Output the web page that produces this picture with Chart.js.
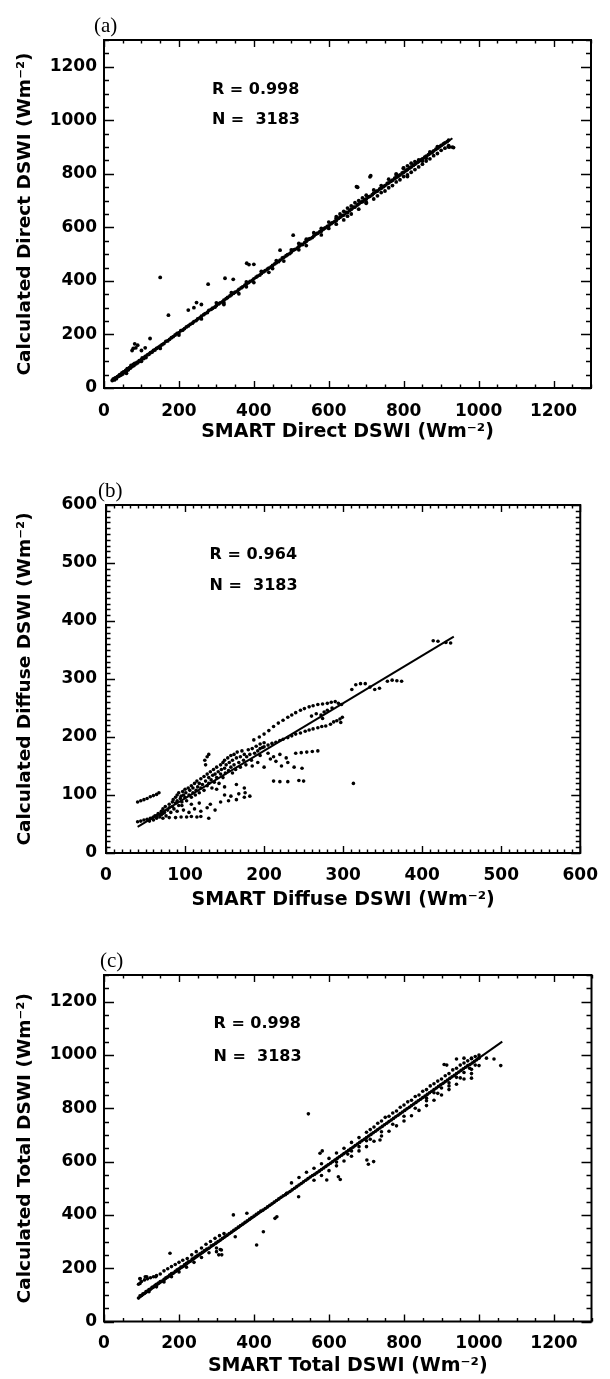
<!DOCTYPE html>
<html>
<head>
<meta charset="utf-8">
<script src="https://cdn.jsdelivr.net/npm/chart.js@4.4.1/dist/chart.umd.min.js"></script>
<style>
	html, body { margin: 0; padding: 0; background: #fff; }
	body { width: 610px; height: 1379px; position: relative; overflow: hidden; }
	.panel { position: absolute; left: 0; width: 610px; }
	.panel canvas { display: block; }
</style>
</head>
<body>
<div class="panel" id="wrapA"><canvas id="chartA"></canvas></div>
<div class="panel" id="wrapB"><canvas id="chartB"></canvas></div>
<div class="panel" id="wrapC"><canvas id="chartC"></canvas></div>
<script>
// tick labels
const wideTicks = [0, 200, 400, 600, 800, 1000, 1200];
const diffuseTicks = [0, 100, 200, 300, 400, 500, 600];

// (a) direct DSWI: [SMART, calculated] in W m-2
const directPoints = [
	[22,28],[25,34],[28,30],[30,38],[33,35],[36,42],[40,44],[42,50],[45,48],[48,56],[50,52],[52,60],[55,58],[58,66],[60,62],[62,72],
	[65,68],[68,76],[70,74],[72,84],[75,80],[78,88],[80,84],[82,92],[85,90],[88,96],[90,94],[94,102],[96,100],[100,106],[102,112],
	[106,110],[110,118],[112,114],[116,124],[120,126],[124,132],[128,134],[132,140],[136,142],[140,148],[145,152],[150,156],[155,162],
	[160,166],[165,174],[170,176],[175,182],[180,188],[185,192],[190,198],[195,204],[200,206],[205,214],[210,216],[215,222],[220,228],
	[225,232],[230,238],[236,242],[240,248],[246,252],[250,258],[256,262],[260,268],[266,274],[270,278],[276,282],[280,290],[286,294],
	[290,298],[296,302],[300,308],[306,314],[310,318],[316,322],[320,328],[326,334],[330,338],[336,344],[340,348],[346,354],[350,358],
	[356,362],[360,368],[366,374],[370,378],[376,384],[380,388],[386,394],[390,398],[396,402],[400,408],[406,414],[410,418],[416,422],
	[420,428],[426,434],[430,438],[436,444],[440,448],[446,452],[450,458],[456,464],[460,468],[466,472],[470,478],[476,486],[480,488],
	[486,494],[490,498],[496,502],[500,508],[506,516],[510,518],[516,522],[520,528],[526,536],[530,536],[536,544],[540,548],[546,556],
	[550,558],[556,562],[560,568],[566,576],[570,578],[576,584],[580,586],[586,594],[590,598],[596,604],[600,606],[606,614],[610,618],
	[616,622],[620,626],[626,634],[630,638],[636,644],[640,646],[646,656],[650,656],[656,664],[660,668],[666,676],[670,676],[676,684],
	[680,688],[686,694],[690,696],[696,704],[700,706],[706,714],[710,716],[716,722],[720,728],[726,734],[730,736],[736,744],[740,746],
	[746,752],[750,756],[756,764],[760,766],[766,772],[770,776],[776,784],[780,786],[786,792],[790,796],[796,804],[800,806],[806,812],
	[810,816],[816,822],[820,826],[826,832],[830,836],[836,842],[840,846],[846,852],[850,856],[856,862],[860,866],[866,872],[870,876],
	[876,880],[880,886],[886,892],[890,896],[896,902],[900,906],[906,912],[910,916],[916,920],[920,926],
	[60,55],[100,100],[150,148],[200,198],[260,258],[320,318],[380,378],[450,446],[520,516],[600,596],[650,642],[700,694],[740,730],
	[780,770],[800,790],[820,806],[840,826],[860,848],[880,868],[900,888],[920,905],[930,900],[933,898],
	[520,540],[560,580],[600,620],[620,640],[640,660],[660,680],[680,700],[700,720],[720,740],[760,780],[780,800],[800,822],[820,840],
	[840,852],[850,848],[860,858],
	[300,318],[340,356],[380,396],[420,436],[460,476],[500,516],[540,556],[580,596],[620,634],[630,650],[650,672],[670,692],[690,710],
	[740,756],[780,796],[810,830],[830,846],[870,882],[890,902],
	[320,312],[360,352],[400,394],[440,432],[480,474],[540,532],[580,572],[620,612],[660,650],[700,690],[730,718],[760,748],[790,778],
	[810,796],[830,816],[850,836],[870,856],[890,876],[910,896],[640,628],[680,668],[720,706],[750,736],[770,756],[810,790],
	[150,413],[172,272],[75,140],[78,148],[82,165],[85,150],[90,160],[100,140],[110,150],[123,185],[225,291],[247,319],[240,300],
	[260,312],[278,388],[323,410],[345,406],[381,466],[387,461],[400,462],[470,515],[505,571],[674,752],[677,750],[710,789],[712,793],
	[799,821],[919,901],[922,900]
];
const directFit = [[20, 30], [930, 933]];

// (b) diffuse DSWI
const diffusePoints = [
	[40,54],[44,55],[48,57],[52,58],[56,60],[60,62],[64,64],[68,66],[72,68],
	[40,88],[44,90],[48,92],[52,94],[56,97],[60,99],[64,101],[67,104],
	[55,55],[58,60],[60,57],[62,64],[64,60],[66,68],[68,62],[70,72],[70,66],[72,76],[74,70],[75,80],[76,64],[78,74],[80,84],[80,78],
	[82,70],[84,88],[84,80],[85,92],[86,76],[88,96],[88,86],[90,100],[90,90],[92,82],[92,104],[94,94],[95,98],[96,88],[97,106],
	[98,100],[100,110],[100,96],[101,104],[102,90],[104,112],[105,100],[106,108],[108,116],[108,96],[110,104],[110,112],[112,120],
	[113,100],[114,108],[115,124],[116,114],[118,104],[118,120],[120,128],[120,112],[122,118],[124,132],[124,108],[126,124],[128,136],
	[128,116],[130,120],[130,130],[132,140],[133,126],[134,112],[135,134],[136,144],[137,122],[138,136],[140,148],[140,130],[142,140],
	[143,120],[145,152],[145,136],[146,144],[148,156],[148,130],[150,160],[150,146],[151,138],[152,152],[154,164],[155,142],[156,156],
	[158,168],[158,148],[160,160],[160,138],[162,170],[162,152],[164,144],[165,164],[166,174],[168,156],[170,166],[170,148],[172,176],
	[174,160],[175,170],[177,152],[178,166],[180,178],[182,170],[184,160],[185,180],[188,172],[190,184],[192,176],[195,188],[198,182],
	[200,190],
	[125,160],[128,166],[130,170],[126,152],
	[72,60],[80,61],[88,61],[95,62],[102,62],[108,63],[115,62],[120,63],[130,60],
	[90,72],[98,74],[105,70],[112,76],[120,72],[128,78],[138,74],[96,82],[108,84],[118,86],[132,84],[145,88],[155,90],[165,92],
	[175,96],[150,100],[158,98],[168,102],[176,104],[182,98],[140,110],[150,114],[165,118],[175,112],
	[185,150],[192,156],[200,148],[208,162],[215,158],[222,150],[230,156],[238,148],[248,146],[195,168],[205,172],[212,166],[220,170],
	[228,164],
	[240,172],[247,173],[254,174],[261,175],[268,176],
	[212,124],[220,123],[230,123],[244,125],[250,124],[313,120],
	[187,195],[194,200],[200,205],[206,211],[212,218],[218,224],[224,229],[230,234],[235,238],[240,242],[246,246],[251,249],[257,252],
	[262,254],[268,256],[274,257],[280,258],[285,260],[290,261],[294,258],[298,256],
	[195,180],[200,183],[205,186],[210,189],[215,191],[220,194],[224,196],[230,199],[235,202],[240,205],[246,207],[252,210],[257,212],
	[262,214],[268,216],[273,218],[278,219],[284,222],[288,226],[292,228],[296,231],[299,234],[297,225],
	[260,236],[266,240],[272,238],[276,243],[274,232],[280,246],[286,250],
	[311,282],[316,290],[322,292],[328,292],[334,286],[340,282],[346,284],[356,296],[362,298],[368,297],[374,296],
	[414,366],[420,365],[430,363],[436,362]
];
const diffuseFit = [[40, 45], [440, 373]];

// (c) total DSWI
const totalPoints = [
	[92,88],[96,96],[100,98],[104,104],[108,106],[112,112],[116,114],[120,120],[124,122],[128,128],[132,130],[136,136],[140,140],
	[145,144],[150,150],[155,152],[160,158],[165,164],[170,168],[175,174],[180,180],[185,182],[190,188],[195,194],[200,198],[205,204],
	[210,206],[215,214],[220,218],[225,224],[230,226],[235,234],[240,238],[245,244],[250,248],[256,254],[262,260],[268,266],[274,272],
	[280,276],[286,284],[292,288],[298,294],[304,300],[310,306],[316,312],[322,318],[328,324],[334,330],[340,336],[346,342],[352,348],
	[358,354],[364,360],[370,366],[376,372],[382,378],[388,384],[394,390],[400,396],[406,402],[412,408],[418,414],[424,418],[430,424],
	[436,430],[442,436],[448,442],[454,448],[460,454],[466,460],[472,466],[478,472],[484,476],[490,482],[496,488],[502,494],[508,500],
	[514,506],[520,512],[526,518],[532,524],[538,530],[544,536],[550,542],[556,548],[562,552],[568,558],[574,564],[580,570],[586,576],
	[592,582],[598,588],[604,594],[610,600],[616,606],[622,612],[628,618],[634,624],[640,630],[646,636],[652,642],[658,648],[664,654],
	[670,660],[676,666],[682,672],[688,678],[694,684],[700,690],[706,696],[712,702],[718,708],[724,714],[730,720],[736,726],[742,732],
	[748,738],[754,744],[760,750],[766,756],[772,762],[778,768],[784,774],[790,780],[796,786],[802,792],[808,798],[814,804],[820,810],
	[826,816],[832,822],[838,828],[844,834],[850,840],[856,846],[862,852],[868,858],[874,864],[880,870],[886,876],[892,882],[898,888],
	[904,894],[910,900],[916,906],[922,912],[928,918],[934,924],[940,930],[946,936],[952,942],[958,948],[964,954],[970,960],[976,964],
	[982,970],[988,976],[994,982],[1000,988],
	[100,150],[108,156],[116,160],[124,164],[132,168],[140,172],[150,178],[160,190],[170,198],[180,206],[190,214],[200,222],[210,230],
	[222,236],[234,250],[246,262],[260,276],[272,290],[284,300],[296,312],[308,322],[320,330],[92,140],[96,160],[110,168],[138,168],
	[120,112],[140,130],[160,148],[180,168],[200,186],[220,204],[240,222],[260,240],[280,258],[300,276],[310,270],[300,262],[306,250],
	[500,520],[520,540],[540,560],[560,575],[580,592],[600,612],[620,632],[640,650],[660,672],[680,690],[700,710],[720,730],[740,752],
	[760,770],[780,790],[800,812],[820,830],[840,850],[860,870],[880,892],[900,910],[920,930],[940,950],[960,970],[980,988],[1000,1000],
	[560,530],[580,548],[600,566],[620,584],[640,602],[660,620],[680,640],[700,656],[720,676],[740,696],[760,714],[780,734],[800,752],
	[820,772],[840,792],[860,810],[880,830],[900,850],[920,870],[940,890],[960,910],[980,930],
	[620,598],[650,628],[680,656],[710,684],[740,712],[770,740],[800,770],[830,800],[860,828],[890,856],[920,884],[950,914],[980,946],
	[1000,960],
	[710,720],[730,744],[750,766],[770,782],[790,804],[810,824],[830,844],[850,864],[870,884],[890,902],[910,922],[930,944],[950,962],
	[970,978],[990,994],[860,838],[880,858],[900,876],[920,896],[940,916],[960,934],[975,950],[990,962],[700,678],[660,640],
	[545,779],[701,606],[719,600],[705,590],[576,631],[625,543],[630,533],[594,531],[519,468],[487,481],[582,640],[736,681],[914,962],
	[980,913],[1058,960],[940,985],[960,988],[980,986],[1000,990],[1020,988],[1040,985],[907,964],[176,256],[96,143],[96,161],[114,168],
	[345,400],[381,406],[350,318],[407,287],[425,337],[456,387],[461,393],[313,268],[314,250]
];
const totalFit = [[90, 85], [1062, 1050]];

const statText = {
	direct: ['R = 0.998', 'N =  3183'],
	diffuse: ['R = 0.964', 'N =  3183'],
	total: ['R = 0.998', 'N =  3183']
};

// inward IDL-style ticks, box, stats and panel letter
const framePlugin = {
	id: 'frame',
	afterDraw(chart, args, o) {
		const { ctx, chartArea: a, scales: { x, y } } = chart;
		ctx.save();
		ctx.strokeStyle = '#000';
		ctx.lineWidth = 1.4;
		ctx.beginPath();
		for (let v = x.min; v <= x.max + 0.001; v += o.minor) {
			const px = Math.round(x.getPixelForValue(v)) + 0.5;
			const len = Math.round(v) % o.major === 0 ? o.xLen : o.xLen / 2;
			ctx.moveTo(px, a.bottom); ctx.lineTo(px, a.bottom - len);
			ctx.moveTo(px, a.top); ctx.lineTo(px, a.top + len);
		}
		for (let v = y.min; v <= y.max + 0.001; v += o.minor) {
			const py = Math.round(y.getPixelForValue(v)) + 0.5;
			const len = Math.round(v) % o.major === 0 ? o.yLen : o.yLen / 2;
			ctx.moveTo(a.left, py); ctx.lineTo(a.left + len, py);
			ctx.moveTo(a.right, py); ctx.lineTo(a.right - len, py);
		}
		ctx.stroke();
		ctx.lineWidth = 2;
		ctx.strokeRect(a.left, a.top, a.right - a.left, a.bottom - a.top);

		ctx.fillStyle = '#000';
		ctx.textBaseline = 'middle';
		ctx.textAlign = 'left';
		ctx.font = 'bold 16px "DejaVu Sans"';
		o.stats.forEach((s, i) => {
			ctx.fillText(s, x.getPixelForValue(o.statAt[i][0]), y.getPixelForValue(o.statAt[i][1]));
		});
		ctx.font = '21px "Liberation Serif"';
		ctx.fillText(o.letter, o.letterAt[0], o.letterAt[1]);
		ctx.restore();
	}
};

const tickFont = { family: 'DejaVu Sans', weight: 'bold', size: 17 };
const titleFont = { family: 'DejaVu Sans', weight: 'bold', size: 19, lineHeight: 1 };
const yTitleFont = { family: 'DejaVu Sans', weight: 'bold', size: 18.5, lineHeight: 1 };

function makePanel(id, p) {
	const canvas = document.getElementById(id);
	canvas.width = 610;
	canvas.height = p.height;
	canvas.parentNode.style.top = p.top + 'px';
	canvas.parentNode.style.height = p.height + 'px';

	const fixTicks = s => { s.ticks = p.ticks.map(v => ({ value: v })); };

	new Chart(canvas, {
		type: 'scatter',
		data: {
			datasets: [
				{
					data: p.fit.map(([x, y]) => ({ x, y })),
					showLine: true,
					borderColor: '#000',
					borderWidth: 2,
					pointRadius: 0,
					order: 0
				},
				{
					data: p.points.map(([x, y]) => ({ x, y })),
					backgroundColor: '#000',
					borderWidth: 0,
					pointRadius: p.dot,
					order: 1
				}
			]
		},
		options: {
			responsive: false,
			animation: false,
			layout: {
				padding: {
					left: 0,
					right: 610 - p.right,
					top: p.boxTop - p.top,
					bottom: p.top + p.height - p.boxBottom - p.xAxisH
				}
			},
			plugins: {
				legend: { display: false },
				tooltip: { enabled: false },
				frame: {
					major: p.major, minor: p.minor, xLen: p.xLen, yLen: p.yLen,
					stats: p.stats, statAt: p.statAt,
					letter: p.letter, letterAt: [p.letterAt[0], p.letterAt[1] - p.top]
				}
			},
			scales: {
				x: {
					type: 'linear', min: 0, max: p.max,
					grid: { display: false, drawTicks: false, tickLength: 0 },
					border: { display: false },
					afterBuildTicks: fixTicks,
					ticks: { color: '#000', font: tickFont, padding: p.xTickPad, maxRotation: 0, autoSkip: false, callback: v => String(v) },
					title: { display: true, text: p.xTitle, color: '#000', font: titleFont, padding: 0 },
					afterFit(s) { s.height = p.xAxisH; }
				},
				y: {
					type: 'linear', min: 0, max: p.max,
					grid: { display: false, drawTicks: false, tickLength: 0 },
					border: { display: false },
					afterBuildTicks: fixTicks,
					ticks: { color: '#000', font: tickFont, padding: p.yTickPad, autoSkip: false, callback: v => String(v) },
					title: { display: true, text: p.yTitle, color: '#000', font: yTitleFont, padding: { top: 16, bottom: 0 } },
					afterFit(s) { s.width = p.left; }
				}
			}
		},
		plugins: [framePlugin]
	});
}

makePanel('chartA', {
	top: 0, height: 460, left: 104, right: 591, boxTop: 40, boxBottom: 388, xAxisH: 54,
	max: 1300, ticks: wideTicks, major: 200, minor: 50, xLen: 7, yLen: 10, xTickPad: 13, yTickPad: 7, dot: 1.9,
	points: directPoints, fit: directFit,
	xTitle: 'SMART Direct DSWI (Wm\u207B\u00B2)', yTitle: 'Calculated Direct DSWI (Wm\u207B\u00B2)',
	stats: statText.direct, statAt: [[288, 1113], [288, 1001]],
	letter: '(a)', letterAt: [94, 26]
});

makePanel('chartB', {
	top: 460, height: 460, left: 106, right: 590, boxTop: 505, boxBottom: 853, xAxisH: 57,
	max: 600, ticks: diffuseTicks, major: 100, minor: 10, xLen: 7, yLen: 9, xTickPad: 12, yTickPad: 9, dot: 1.8,
	points: diffusePoints, fit: diffuseFit,
	xTitle: 'SMART Diffuse DSWI (Wm\u207B\u00B2)', yTitle: 'Calculated Diffuse DSWI (Wm\u207B\u00B2)',
	stats: statText.diffuse, statAt: [[131, 514], [131, 460]],
	letter: '(b)', letterAt: [98, 491]
});

makePanel('chartC', {
	top: 920, height: 459, left: 104, right: 591.5, boxTop: 975, boxBottom: 1321.5, xAxisH: 54,
	max: 1300, ticks: wideTicks, major: 200, minor: 50, xLen: 7, yLen: 10, xTickPad: 11.5, yTickPad: 7, dot: 1.8,
	points: totalPoints, fit: totalFit,
	xTitle: 'SMART Total DSWI (Wm\u207B\u00B2)', yTitle: 'Calculated Total DSWI (Wm\u207B\u00B2)',
	stats: statText.total, statAt: [[292, 1115], [292, 994]],
	letter: '(c)', letterAt: [100, 961]
});
</script>
</body>
</html>
